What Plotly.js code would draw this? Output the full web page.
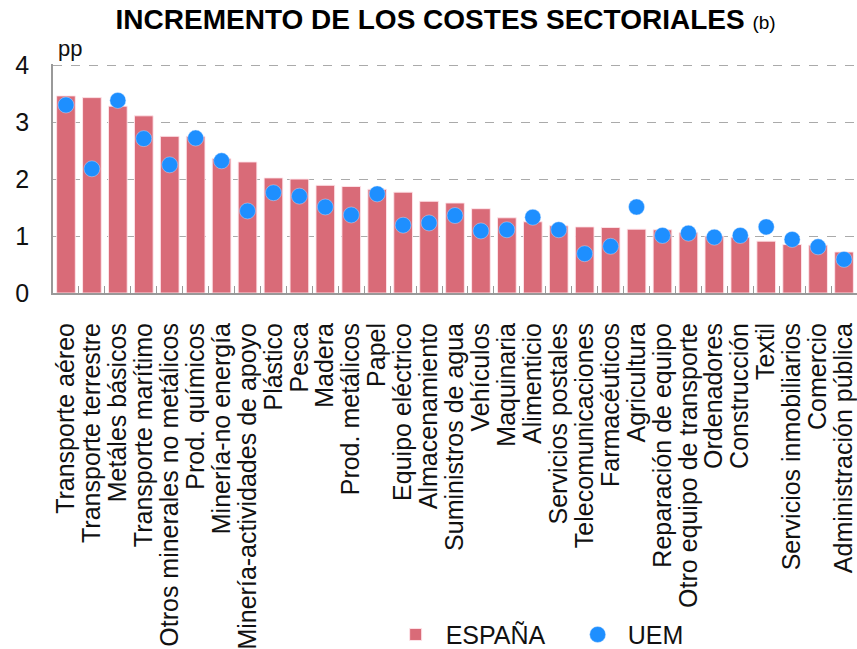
<!DOCTYPE html>
<html>
<head>
<meta charset="utf-8">
<script src="https://cdn.plot.ly/plotly-3.0.1.min.js"></script>
<style>
  html, body { margin: 0; padding: 0; background: #fff; }
  #chart { width: 857px; height: 649px; }
</style>
</head>
<body>
<div id="chart"></div>
<script>
const chartDiv = document.getElementById("chart")

const sectores = [
    "Transporte aéreo", "Transporte terrestre", "Metáles básicos", "Transporte marítimo",
    "Otros minerales no metálicos", "Prod. químicos", "Minería-no energía",
    "Minería-actividades de apoyo", "Plástico", "Pesca", "Madera", "Prod. metálicos",
    "Papel", "Equipo eléctrico", "Almacenamiento", "Suministros de agua", "Vehículos",
    "Maquinaria", "Alimenticio", "Servicios postales", "Telecomunicaciones",
    "Farmacéuticos", "Agricultura", "Reparación de equipo", "Otro equipo de transporte",
    "Ordenadores", "Construcción", "Textil", "Servicios inmobiliarios", "Comercio",
    "Administración pública"
]

const espana = [
    3.46, 3.43, 3.28, 3.11, 2.75, 2.75, 2.36, 2.30, 2.02, 2.00, 1.89, 1.87,
    1.82, 1.77, 1.61, 1.58, 1.48, 1.32, 1.25, 1.18, 1.16, 1.15, 1.12, 1.11,
    1.06, 1.00, 0.98, 0.91, 0.85, 0.84, 0.72
]

const uem = [
    3.30, 2.18, 3.38, 2.71, 2.25, 2.72, 2.32, 1.44, 1.76, 1.70, 1.51, 1.37,
    1.74, 1.19, 1.23, 1.36, 1.09, 1.11, 1.33, 1.11, 0.69, 0.82, 1.51, 1.01,
    1.05, 0.98, 1.01, 1.16, 0.94, 0.81, 0.59
]

const yTicks = [0, 1, 2, 3, 4]

const baseFont = "Liberation Sans, Arial, Helvetica, sans-serif"

let traceEspana = {
    x: sectores,
    y: espana,
    type: "bar",
    name: "ESPAÑA",
    marker: {
        color: "#d96b78",
        line: { color: "rgba(255,230,235,0.9)", width: 1 }
    }
}

let traceUem = {
    x: sectores,
    y: uem,
    type: "scatter",
    mode: "markers",
    name: "UEM",
    marker: {
        color: "#1e8fff",
        size: 16,
        line: { color: "rgba(220,235,255,0.8)", width: 0.5 }
    }
}

let layout = {
    width: 857,
    height: 649,
    margin: { l: 53, r: 0, t: 64, b: 356, autoexpand: false },
    paper_bgcolor: "#ffffff",
    plot_bgcolor: "#ffffff",
    font: { family: baseFont, size: 22, color: "#111" },
    title: {
        text: "<b>INCREMENTO DE LOS COSTES SECTORIALES</b> <span style='font-size:19px'>(b)</span>",
        font: { family: baseFont, size: 28, color: "#000" },
        x: 0.52,
        xanchor: "center",
        y: 0.985,
        yanchor: "top"
    },
    bargap: 0.28,
    showlegend: true,
    legend: {
        orientation: "h",
        xref: "container",
        yref: "container",
        x: 0.45,
        xanchor: "left",
        y: 0.022,
        yanchor: "middle",
        font: { size: 25, color: "#111" },
        itemwidth: 50,
        entrywidth: 117
    },
    xaxis: {
        type: "category",
        range: [-0.5, sectores.length - 0.5],
        tickmode: "array",
        tickvals: sectores,
        ticktext: sectores,
        tickangle: -90,
        tickfont: { size: 25, color: "#111" },
        ticklabelstandoff: 18,
        showline: true,
        linecolor: "#999",
        linewidth: 2,
        ticks: "inside",
        tickson: "boundaries",
        ticklen: 7,
        tickcolor: "#999",
        showgrid: false,
        automargin: false
    },
    yaxis: {
        range: [0, 4.02],
        tickvals: yTicks,
        ticktext: yTicks.map(String),
        tickfont: { size: 25, color: "#111" },
        ticklabelstandoff: 17,
        showline: true,
        linecolor: "#999",
        linewidth: 1.5,
        showgrid: true,
        gridcolor: "#aaa",
        griddash: "dash",
        gridwidth: 1,
        zeroline: false,
        automargin: false
    },
    annotations: [{
        text: "pp",
        xref: "paper",
        yref: "paper",
        x: 0,
        y: 1.0,
        xanchor: "left",
        yanchor: "bottom",
        xshift: 3,
        yshift: 1,
        showarrow: false,
        font: { size: 22, color: "#111" }
    }]
}

let config = {
    responsive: false,
    displayModeBar: false
}

Plotly.newPlot(chartDiv, [traceEspana, traceUem], layout, config)
</script>
</body>
</html>
